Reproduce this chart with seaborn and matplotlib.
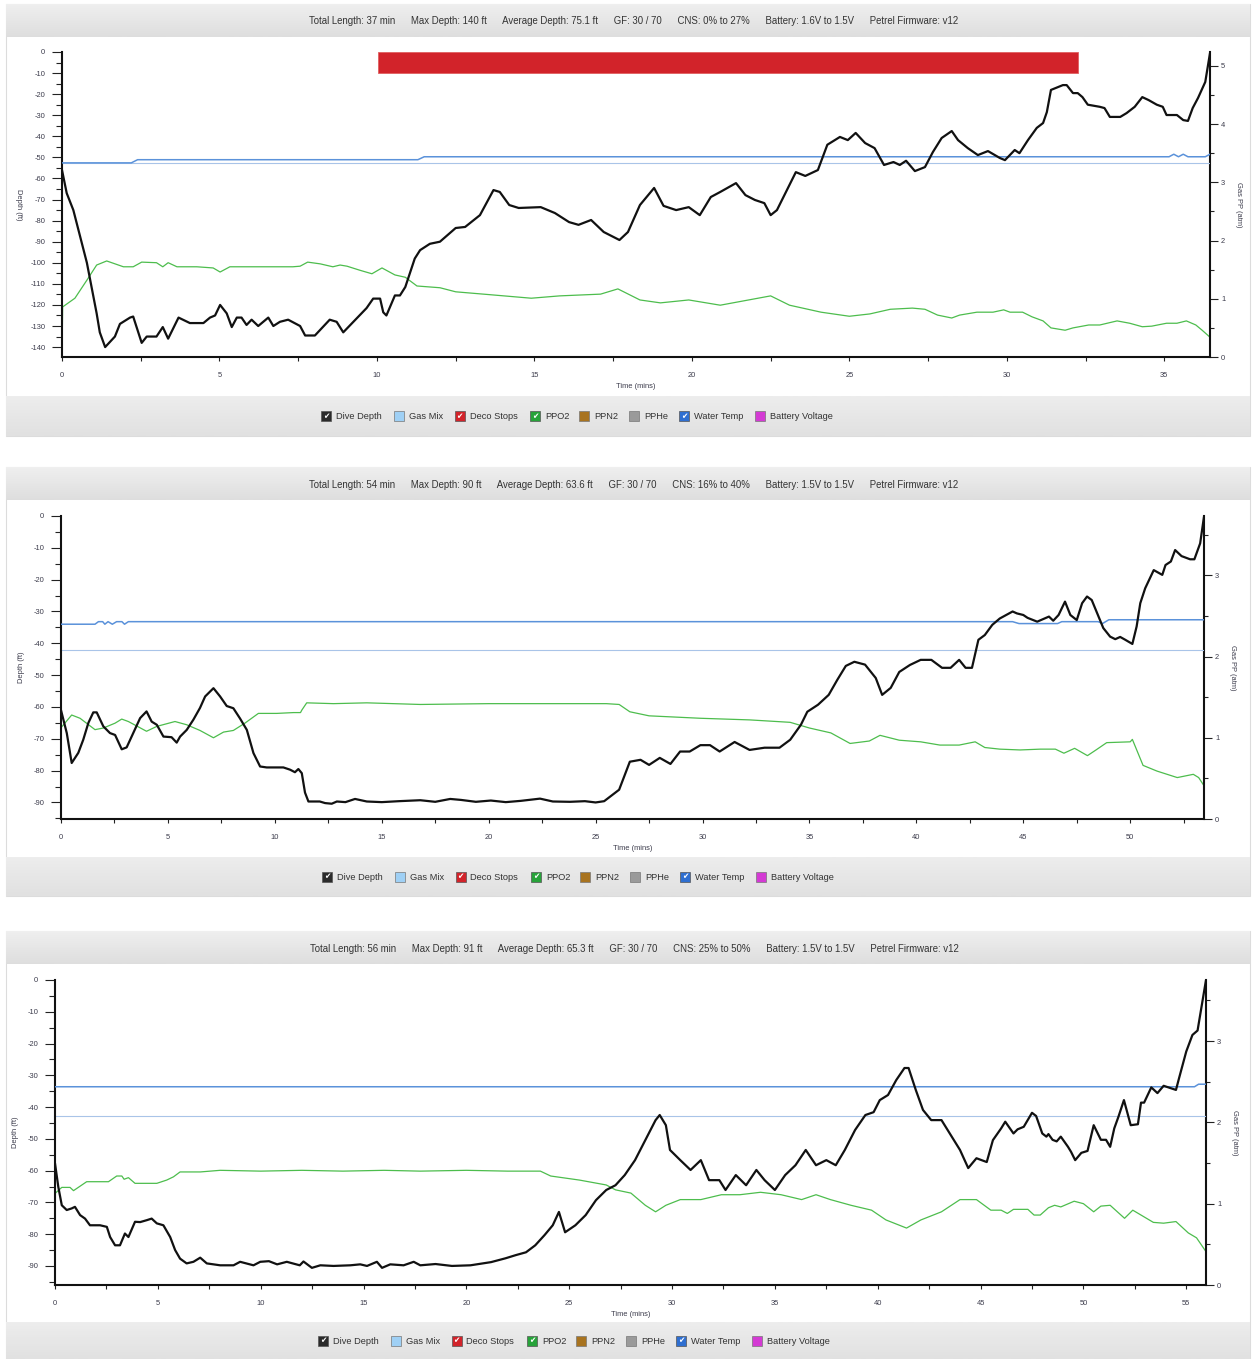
import numpy as np
import pandas as pd
import matplotlib
matplotlib.use("Agg")
import matplotlib.pyplot as plt
import seaborn as sns
from matplotlib.ticker import MultipleLocator

# ---------------- data read off the three dive logs ----------------
# dive 1 : depth profile (ft)
p1_time = [0, 0.15, 0.36, 0.79, 1.1, 1.2, 1.37, 1.68, 1.84, 2.16,
           2.26, 2.53, 2.69, 3.0, 3.2, 3.37, 3.7, 4.06, 4.49, 4.7,
           4.86, 5.02, 5.23, 5.39, 5.55, 5.7, 5.86, 6.02, 6.23, 6.55,
           6.71, 6.92, 7.18, 7.56, 7.72, 8.03, 8.5, 8.72, 8.93, 9.25,
           9.67, 9.88, 10.1, 10.2, 10.3, 10.57, 10.73, 10.9, 11.2, 11.37,
           11.68, 12.0, 12.5, 12.8, 13.27, 13.7, 13.9, 14.2, 14.5, 15.2,
           15.65, 16.1, 16.4, 16.8, 17.2, 17.7, 17.97, 18.35, 18.8, 19.1,
           19.5, 19.9, 20.25, 20.6, 20.9, 21.4, 21.7, 22.0, 22.3, 22.5,
           22.7, 23.1, 23.3, 23.6, 24.0, 24.3, 24.7, 24.95, 25.2, 25.5,
           25.8, 26.1, 26.4, 26.6, 26.8, 27.08, 27.4, 27.65, 27.93, 28.25,
           28.45, 28.76, 29.08, 29.4, 29.78, 29.94, 30.25, 30.4, 30.67, 30.95,
           31.15, 31.27, 31.4, 31.78, 31.9, 32.1, 32.25, 32.4, 32.57, 32.95,
           33.1, 33.27, 33.6, 33.8, 34.06, 34.3, 34.5, 34.76, 34.95, 35.07,
           35.4, 35.6, 35.75, 35.9, 36.07, 36.3, 36.4, 36.45]
p1_depth = [-56, -67, -75, -100, -124, -133, -140, -135, -129, -126,
            -125.5, -138, -135, -135, -130.5, -136, -126, -128.6, -128.6, -126,
            -125, -120, -124, -130.5, -126, -126, -129.5, -127, -130, -126,
            -130, -128, -127, -130, -134.5, -134.5, -127, -128, -133, -128,
            -121.5, -117, -117, -123.5, -125, -115.5, -115.5, -111.5, -98, -94,
            -91, -90, -83.5, -83, -77.4, -65.5, -66.4, -72.6, -74, -73.6,
            -76.4, -80.7, -82, -79.7, -85.4, -89.2, -85.4, -72.6, -64.5, -73,
            -75, -73.6, -77.4, -68.8, -66.4, -62.2, -67.9, -70.2, -71.7, -77.4,
            -75, -63, -57, -58.8, -56, -44, -40.3, -41.8, -38.4, -43.2,
            -45.6, -53.6, -52.2, -53.6, -51.6, -56.5, -54.6, -47.5, -40.8, -37.5,
            -41.8, -45.6, -48.9, -47, -50.3, -51.3, -46.5, -48, -41.8, -36,
            -33.7, -28.5, -18, -15.7, -15.7, -19.5, -19.5, -21.4, -25, -26,
            -26.6, -30.8, -30.8, -29, -26, -21.4, -22.8, -25, -26, -29.9,
            -29.9, -32.3, -32.7, -26.6, -21.8, -14.2, -5.2, -0.5]
# dive 1 : PPO2 (atm)
p1_o2_time = [0, 0.02, 0.41, 0.79, 1.1, 1.42, 1.95, 2.26, 2.53, 3.0,
              3.2, 3.37, 3.65, 4.28, 4.8, 5.02, 5.33, 6.5, 7.33, 7.56,
              7.8, 8.2, 8.6, 8.83, 9.05, 9.46, 9.84, 10.16, 10.57, 10.9,
              11.27, 12.0, 12.5, 13.6, 14.9, 15.8, 17.1, 17.65, 18.35, 19.0,
              19.9, 20.9, 21.5, 22.5, 23.1, 24.1, 25.0, 25.65, 26.3, 27.0,
              27.4, 27.8, 28.25, 28.5, 29.05, 29.56, 29.9, 30.1, 30.5, 30.8,
              31.15, 31.4, 31.85, 32.1, 32.6, 32.95, 33.5, 33.9, 34.3, 34.6,
              35.07, 35.4, 35.7, 36.0, 36.2, 36.45]
p1_ppo2 = [0, 0.86, 1.01, 1.32, 1.58, 1.65, 1.55, 1.55, 1.63, 1.62,
           1.55, 1.62, 1.55, 1.55, 1.53, 1.46, 1.55, 1.55, 1.55, 1.56,
           1.63, 1.6, 1.55, 1.58, 1.56, 1.49, 1.43, 1.53, 1.41, 1.37,
           1.22, 1.19, 1.12, 1.07, 1.01, 1.05, 1.08, 1.17, 0.98, 0.93,
           0.98, 0.89, 0.95, 1.05, 0.89, 0.77, 0.7, 0.74, 0.82, 0.84,
           0.82, 0.72, 0.67, 0.72, 0.77, 0.77, 0.81, 0.77, 0.77, 0.69,
           0.62, 0.5, 0.46, 0.5, 0.55, 0.55, 0.62, 0.58, 0.52, 0.53,
           0.58, 0.58, 0.62, 0.55, 0.46, 0.34]
# dive 1 : water temp trace (drawn on the depth scale)
p1_wt_time = [0, 2.2, 2.4, 11.3, 11.5, 35.15, 35.3, 35.45, 35.6, 35.75, 36.3, 36.45]
p1_wt = [-52.6, -52.6, -51.1, -51.1, -49.7, -49.7, -48.5, -49.7, -48.5, -49.7, -49.7, -48.5]
p1_ref = -52.8
p1_deco_start, p1_deco_end, p1_deco_depth = 10.03, 32.25, -9.8
p1_stats = ['Total Length: 37 min', 'Max Depth: 140 ft', 'Average Depth: 75.1 ft', 'GF: 30 / 70',
            'CNS: 0% to 27%', 'Battery: 1.6V to 1.5V', 'Petrel Firmware: v12']

# dive 2
p2_time = [0, 0.27, 0.5, 0.81, 1.04, 1.28, 1.51, 1.67, 1.98, 2.29,
           2.53, 2.84, 3.07, 3.38, 3.7, 4.0, 4.24, 4.48, 4.79, 5.17,
           5.41, 5.57, 5.88, 6.19, 6.5, 6.74, 7.13, 7.44, 7.75, 8.06,
           8.37, 8.69, 9.0, 9.31, 9.62, 10.4, 10.71, 10.94, 11.1, 11.26,
           11.41, 11.57, 12.1, 12.35, 12.66, 12.9, 13.3, 13.75, 14.3, 15.0,
           15.8, 16.8, 17.5, 18.2, 18.7, 19.4, 20.1, 20.8, 21.5, 22.4,
           23.0, 23.8, 24.5, 25.0, 25.4, 26.1, 26.6, 27.1, 27.5, 28.0,
           28.5, 28.95, 29.4, 29.9, 30.35, 30.8, 31.5, 32.2, 32.9, 33.6,
           34.1, 34.6, 34.9, 35.4, 35.9, 36.3, 36.7, 37.1, 37.6, 38.1,
           38.4, 38.8, 39.2, 39.7, 40.2, 40.7, 41.2, 41.6, 42.0, 42.3,
           42.6, 42.9, 43.2, 43.55, 43.9, 44.5, 44.7, 45.0, 45.2, 45.65,
           46.2, 46.4, 46.65, 46.95, 47.2, 47.5, 47.75, 47.98, 48.2, 48.45,
           48.74, 49.06, 49.3, 49.53, 49.77, 50.1, 50.3, 50.47, 50.7, 51.1,
           51.5, 51.65, 51.9, 52.1, 52.4, 52.8, 53.0, 53.27, 53.45]
p2_depth = [-61, -68.2, -77.6, -74.4, -70.3, -65, -61.7, -61.7, -66.1, -68.2,
            -68.8, -73.3, -72.7, -68.2, -63.5, -61.4, -64.6, -65.6, -69.3, -69.5,
            -71.2, -69.3, -67.2, -64, -60.3, -56.7, -54.1, -56.7, -59.7, -60.4,
            -63.6, -67.2, -74.5, -78.7, -79, -79, -79.7, -80.5, -79.5, -80.8,
            -86.9, -89.7, -89.7, -90.2, -90.4, -89.7, -89.9, -88.9, -89.7, -89.9,
            -89.6, -89.3, -89.8, -88.9, -89.2, -89.8, -89.4, -89.9, -89.5, -88.8,
            -89.7, -89.8, -89.6, -90.0, -89.6, -86, -77.2, -76.6, -78.2, -76,
            -77.9, -74, -74, -72, -72, -74, -71, -73.5, -72.8, -72.8,
            -70.3, -65.6, -61.5, -59.3, -56.2, -51.5, -47.1, -45.8, -46.7, -50.9,
            -56.2, -54, -49, -46.8, -45.2, -45.2, -47.7, -47.7, -45.2, -47.7,
            -47.7, -38.9, -37.4, -34.2, -32.2, -30, -30.6, -31.1, -32, -33.2,
            -31.6, -32.9, -31.1, -26.9, -31.1, -32.7, -27.4, -25.3, -26.4, -30.5,
            -35.2, -37.9, -38.7, -38, -38.9, -40.2, -34.7, -27.4, -22.7, -17,
            -18.5, -15.4, -14.3, -10.7, -12.6, -13.6, -13.6, -8.6, -0.2]
p2_o2_time = [0, 0.02, 0.5, 0.89, 1.59, 1.98, 2.53, 2.84, 3.15, 4.0,
              4.48, 5.33, 5.88, 6.5, 7.13, 7.6, 8.06, 8.6, 9.23, 10.09,
              10.87, 11.2, 11.26, 11.49, 12.74, 14.3, 16.8, 20.0, 23.0, 25.5,
              26.1, 26.6, 27.5, 29.9, 32.2, 34.1, 35.0, 36.0, 36.9, 37.8,
              38.3, 39.2, 40.2, 41.1, 42.0, 42.75, 43.2, 43.9, 44.85, 45.8,
              46.5, 46.9, 47.4, 48.0, 48.4, 48.9, 50.0, 50.1, 50.6, 51.25,
              52.2, 52.95, 53.2, 53.45]
p2_ppo2 = [0, 1.13, 1.28, 1.24, 1.10, 1.12, 1.18, 1.23, 1.20, 1.08,
           1.14, 1.20, 1.16, 1.09, 1.00, 1.07, 1.09, 1.18, 1.30, 1.30,
           1.31, 1.31, 1.34, 1.43, 1.42, 1.43, 1.41, 1.42, 1.42, 1.42,
           1.41, 1.32, 1.27, 1.24, 1.22, 1.19, 1.12, 1.06, 0.93, 0.96,
           1.03, 0.97, 0.95, 0.91, 0.91, 0.95, 0.88, 0.86, 0.85, 0.86,
           0.86, 0.81, 0.87, 0.78, 0.85, 0.94, 0.95, 0.98, 0.66, 0.59,
           0.51, 0.55, 0.51, 0.41]
p2_wt_time = [0, 1.59, 1.75, 1.95, 2.05, 2.2, 2.4, 2.6, 2.85, 2.97,
              3.15, 44.5, 44.8, 46.6, 46.8, 48.5, 48.7, 49.0, 53.45]
p2_wt = [-34.0, -34.0, -33.2, -33.2, -34.0, -33.2, -34.0, -33.2, -33.2, -34.0,
         -33.2, -33.2, -33.8, -33.8, -33.2, -33.2, -33.8, -32.6, -32.6]
p2_ref = -42.1
p2_stats = ['Total Length: 54 min', 'Max Depth: 90 ft', 'Average Depth: 63.6 ft', 'GF: 30 / 70',
            'CNS: 16% to 40%', 'Battery: 1.5V to 1.5V', 'Petrel Firmware: v12']

# dive 3
p3_time = [0, 0.16, 0.33, 0.57, 0.81, 0.97, 1.22, 1.46, 1.7, 2.19,
           2.52, 2.68, 2.92, 3.16, 3.4, 3.57, 3.89, 4.14, 4.46, 4.7,
           4.95, 5.27, 5.6, 5.84, 6.08, 6.4, 6.73, 7.06, 7.38, 8.03,
           8.68, 9.0, 9.65, 9.98, 10.4, 10.8, 11.27, 11.9, 12.08, 12.49,
           12.9, 13.54, 14.36, 14.84, 15.17, 15.65, 15.9, 16.3, 16.95, 17.44,
           17.76, 18.5, 19.3, 20.2, 21.2, 21.9, 22.4, 22.9, 23.35, 23.8,
           24.2, 24.5, 24.8, 25.3, 25.8, 26.3, 26.8, 27.25, 27.7, 28.2,
           28.7, 29.2, 29.4, 29.7, 29.9, 30.4, 30.9, 31.4, 31.8, 32.3,
           32.6, 33.1, 33.6, 34.1, 34.5, 35.0, 35.5, 36.0, 36.5, 37.0,
           37.5, 37.96, 38.4, 38.9, 39.4, 39.8, 40.1, 40.5, 40.9, 41.3,
           41.5, 41.85, 42.2, 42.6, 43.1, 43.55, 44.0, 44.4, 44.8, 45.3,
           45.6, 46.0, 46.2, 46.6, 46.8, 47.1, 47.5, 47.7, 48.0, 48.2,
           48.3, 48.5, 48.7, 48.9, 49.25, 49.4, 49.6, 49.9, 50.2, 50.5,
           50.85, 51.1, 51.3, 51.5, 51.7, 51.97, 52.3, 52.65, 52.8, 52.95,
           53.3, 53.6, 53.9, 54.5, 54.65, 55.0, 55.3, 55.55, 55.77, 55.96]
p3_depth = [-57.7, -65.1, -70.9, -72.4, -71.9, -71.4, -74, -75.1, -77.2, -77.2,
            -77.7, -80.9, -83.5, -83.5, -79.8, -80.9, -76.1, -76.2, -75.6, -75.1,
            -76.6, -77.2, -80.9, -85, -87.7, -89.2, -88.7, -87.4, -89.2, -89.8,
            -89.8, -88.7, -89.8, -88.7, -88.5, -89.5, -88.7, -89.8, -88.6, -90.6,
            -89.8, -90, -89.8, -89.5, -90, -88.7, -90.6, -89.5, -89.8, -88.7,
            -89.8, -89.4, -90.0, -89.8, -88.8, -87.6, -86.6, -85.7, -83.5, -80.3,
            -77.2, -73, -79.4, -77.2, -74, -69.3, -66.1, -64.6, -61.4, -56.7,
            -50.4, -44.1, -42.5, -45.7, -53.5, -56.7, -59.8, -56.7, -63, -63,
            -66.1, -61.4, -64.6, -59.8, -63, -66.1, -61.4, -58.3, -53.5, -58.3,
            -56.7, -58.3, -53.5, -47.2, -42.5, -41.6, -37.8, -36.2, -31.5, -27.7,
            -27.7, -34.6, -40.9, -44.1, -44.1, -48.8, -53.5, -59.2, -56.1, -57.3,
            -50.4, -46.7, -44.6, -48.3, -47, -46.2, -41.8, -42.8, -48.3, -49.3,
            -48.5, -50.3, -50.8, -49.3, -52.5, -54.1, -56.7, -54.4, -53.8, -45.7,
            -50.3, -50.3, -52.5, -46.7, -43.1, -37.8, -45.7, -45.4, -38.6, -38.6,
            -33.8, -35.6, -33.3, -34.6, -30.9, -22.5, -17.3, -15.9, -7.3, 0]
p3_o2_time = [0, 0.02, 0.33, 0.73, 0.9, 1.54, 2.6, 3.0, 3.25, 3.36,
              3.57, 3.89, 4.95, 5.43, 5.76, 6.08, 7.06, 8.03, 10.0, 12.0,
              14.0, 16.0, 17.76, 20.0, 22.0, 23.6, 24.1, 25.5, 26.8, 27.25,
              28.0, 28.7, 29.2, 29.7, 30.4, 31.4, 32.4, 33.3, 34.3, 35.3,
              36.3, 37.0, 37.7, 38.7, 39.7, 40.4, 41.4, 42.1, 43.1, 44.0,
              44.8, 45.5, 46.0, 46.3, 46.6, 47.3, 47.6, 47.9, 48.3, 48.6,
              48.9, 49.55, 50.0, 50.5, 50.85, 51.3, 52.0, 52.4, 52.8, 53.4,
              53.9, 54.5, 55.1, 55.5, 55.96]
p3_ppo2 = [0, 1.13, 1.2, 1.2, 1.16, 1.27, 1.27, 1.34, 1.34, 1.30,
           1.32, 1.25, 1.25, 1.29, 1.33, 1.39, 1.39, 1.41, 1.40, 1.41,
           1.40, 1.41, 1.40, 1.41, 1.40, 1.40, 1.34, 1.29, 1.23, 1.17,
           1.13, 0.98, 0.9, 0.98, 1.05, 1.05, 1.11, 1.11, 1.14, 1.11,
           1.05, 1.11, 1.05, 0.98, 0.92, 0.8, 0.70, 0.80, 0.9, 1.05,
           1.05, 0.92, 0.92, 0.88, 0.93, 0.93, 0.86, 0.86, 0.95, 0.98,
           0.96, 1.03, 1.0, 0.9, 0.97, 0.98, 0.82, 0.92, 0.86, 0.77,
           0.76, 0.78, 0.64, 0.58, 0.41]
p3_wt_time = [0, 55.4, 55.6, 55.96]
p3_wt = [-33.6, -33.6, -32.8, -32.8]
p3_ref = -42.7
p3_stats = ['Total Length: 56 min', 'Max Depth: 91 ft', 'Average Depth: 65.3 ft', 'GF: 30 / 70',
            'CNS: 25% to 50%', 'Battery: 1.5V to 1.5V', 'Petrel Firmware: v12']

legend_labels = ['Dive Depth', 'Gas Mix', 'Deco Stops', 'PPO2', 'PPN2', 'PPHe', 'Water Temp', 'Battery Voltage']
legend_colors = ['#2b2b2b', '#9fd0f5', '#d2232a', '#27a33a', '#a8731f', '#9a9a9a', '#2f6fd1', '#d43ad4']
legend_checked = [True, False, True, True, False, False, True, False]

# ---------------- figure ----------------
sns.set_theme(style="white")
plt.rcParams['font.family'] = ['Liberation Sans', 'DejaVu Sans']
plt.rcParams['axes.unicode_minus'] = False

W, H = 1252, 1359
fig = plt.figure(figsize=(W / 100, H / 100), dpi=100)
bg = fig.add_axes([0, 0, 1, 1], zorder=0)
bg.set_xlim(0, W)
bg.set_ylim(H, 0)
bg.axis('off')


def gray_bar(y0, y1, top='#efefef', bottom='#dedede'):
    grad = np.linspace(0, 1, 32).reshape(-1, 1)
    cmap = matplotlib.colors.LinearSegmentedColormap.from_list('g', [top, bottom])
    bg.imshow(grad, cmap=cmap, extent=(6, W - 2, y1, y0), aspect='auto', zorder=1)


def draw_panel(box, xmax, ymin, y2max, t, depth, o2t, o2, wtt, wt, ref, stats,
               header, legend_y, legend_dx, deco=None, dlabel_rot=270):
    left, top, right, bottom = box
    # frame + bars
    bg.add_patch(plt.Rectangle((6, header[0]), W - 8, legend_y[1] - header[0],
                               fill=False, ec='#dcdcdc', lw=0.8, zorder=1))
    gray_bar(*header)
    gray_bar(*legend_y, top='#ededed', bottom='#e1e1e1')
    bg.text(634, (header[0] + header[1]) / 2 + 1, '      '.join(stats), ha='center', va='center',
            fontsize=6.9, color='#333333', zorder=3)

    # legend checkboxes
    xs = np.array([326, 399, 459.5, 535, 584, 634, 684, 760]) + legend_dx
    ly = (legend_y[0] + legend_y[1]) / 2
    for x, lab, col, chk in zip(xs, legend_labels, legend_colors, legend_checked):
        bg.add_patch(plt.Rectangle((x - 5, ly - 5), 10, 10, fc=col, ec='#555555' if chk else '#777777',
                                   lw=0.5, zorder=3))
        if chk:
            bg.text(x, ly + 0.5, '\u2714', ha='center', va='center', color='white', fontsize=5.5,
                    zorder=4, family=['DejaVu Sans'])
        bg.text(x + 10, ly + 0.5, lab, ha='left', va='center', fontsize=6.7, color='#333333', zorder=3)

    ax = fig.add_axes([left / W, 1 - bottom / H, (right - left) / W, (bottom - top) / H], zorder=3)
    ax2 = ax.twinx()
    ax.set_zorder(ax2.get_zorder() + 1)
    ax.patch.set_visible(False)
    ax2.patch.set_facecolor('white')

    # gas partial pressure
    sns.lineplot(x=o2t, y=o2, ax=ax2, color='#4dbd4d', linewidth=0.9, estimator=None, sort=False)
    # reference line, water temp, deco stop, depth
    ax.axhline(ref, color='#a9c4e8', lw=0.8, zorder=2)
    sns.lineplot(x=wtt, y=wt, ax=ax, color='#5b92da', linewidth=1.1, estimator=None, sort=False, zorder=3)
    if deco is not None:
        ax.bar(deco[0], deco[2], width=deco[1] - deco[0], bottom=0, align='edge',
               color='#d2232a', edgecolor='#e06060', linewidth=0.6, zorder=2)
    sns.lineplot(x=t, y=depth, ax=ax, color='#111111', linewidth=1.6, estimator=None, sort=False, zorder=4)

    ax.set_xlim(0, xmax)
    ax.set_ylim(ymin, 0)
    ax2.set_ylim(0, y2max)
    ax.xaxis.set_major_locator(MultipleLocator(5))
    ax.xaxis.set_minor_locator(MultipleLocator(2.5))
    ax.yaxis.set_major_locator(MultipleLocator(10))
    ax.yaxis.set_minor_locator(MultipleLocator(5))
    ax2.yaxis.set_major_locator(MultipleLocator(1))
    ax2.yaxis.set_minor_locator(MultipleLocator(0.5))

    for a in (ax, ax2):
        for s in a.spines.values():
            s.set_visible(False)
    ax.spines['left'].set_visible(True)
    ax.spines['bottom'].set_visible(True)
    ax2.spines['right'].set_visible(True)
    for s in (ax.spines['left'], ax.spines['bottom'], ax2.spines['right']):
        s.set_color('#111111')
        s.set_linewidth(1.5)

    tc = '#3b3b4b'
    ax.tick_params(axis='y', which='major', direction='out', length=7, width=0.8, color='#222222',
                   labelsize=5.4, labelcolor=tc, pad=5, left=True)
    ax.tick_params(axis='y', which='minor', direction='out', length=4, width=0.8, color='#222222', left=True)
    ax.tick_params(axis='x', which='both', direction='out', length=3, width=0.8, color='#222222',
                   labelsize=5.4, labelcolor=tc, pad=8, bottom=True)
    ax2.tick_params(axis='y', which='major', direction='out', length=6, width=0.8, color='#222222',
                    labelsize=5.4, labelcolor=tc, pad=2, right=True)
    ax2.tick_params(axis='y', which='minor', direction='out', length=3, width=0.8, color='#222222', right=True)

    ax.set_xlabel('Time (mins)', fontsize=5.4, color=tc, labelpad=3)
    ax.set_ylabel('Depth (ft)', fontsize=5.4, color=tc, labelpad=6, rotation=dlabel_rot)
    ax2.set_ylabel('Gas PP (atm)', fontsize=5.4, color=tc, labelpad=7, rotation=270, va='bottom')
    if dlabel_rot == 270:
        ax.yaxis.label.set_va('top')
    ax.grid(False)
    ax2.grid(False)


draw_panel((62, 52, 1210, 357), 36.45, -144.7, 5.24, p1_time, p1_depth, p1_o2_time, p1_ppo2,
           p1_wt_time, p1_wt, p1_ref, p1_stats, (4, 37), (396, 436), 0,
           deco=(p1_deco_start, p1_deco_end, p1_deco_depth), dlabel_rot=270)
draw_panel((61, 516, 1204, 819), 53.45, -95.2, 3.73, p2_time, p2_depth, p2_o2_time, p2_ppo2,
           p2_wt_time, p2_wt, p2_ref, p2_stats, (467, 500), (857, 896), 1, dlabel_rot=90)
draw_panel((55, 980, 1206, 1285), 55.96, -96, 3.75, p3_time, p3_depth, p3_o2_time, p3_ppo2,
           p3_wt_time, p3_wt, p3_ref, p3_stats, (931, 964), (1322, 1359), -3, dlabel_rot=90)

fig.savefig('out.png', dpi=100, facecolor='white')
